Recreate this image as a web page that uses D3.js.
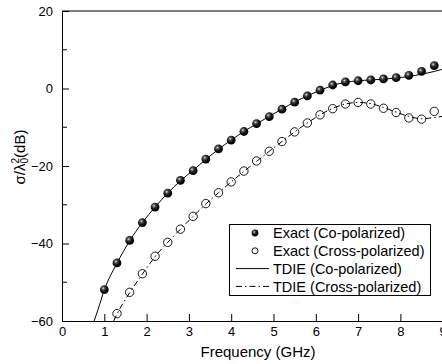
<!DOCTYPE html>
<html>
<head>
<meta charset="utf-8">
<script src="https://cdn.jsdelivr.net/npm/d3@7"></script>
<style>
  body { margin: 0; background: #fff; }
  svg { display: block; font-family: "Liberation Sans", Arial, sans-serif; }
</style>
</head>
<body>
<div id="chart"></div>
<script>
const width = 442;
const height = 364;

// measured points (every 0.3 GHz)
const exactCoFreq = [1.0, 1.3, 1.6, 1.9, 2.2, 2.5, 2.8, 3.1, 3.4, 3.7, 4.0, 4.3, 4.6, 4.9, 5.2, 5.5, 5.8, 6.1, 6.4, 6.7, 7.0, 7.3, 7.6, 7.9, 8.2, 8.5, 8.8];
const exactCo = [-51.9, -45.0, -39.2, -34.6, -30.6, -27.0, -23.7, -21.2, -18.2, -15.6, -13.3, -11.1, -9.05, -7.24, -5.34, -3.53, -1.91, -0.44, 0.9, 1.7, 2.0, 2.2, 2.5, 2.8, 3.4, 4.4, 5.9];

const exactCrossFreq = [1.3, 1.6, 1.9, 2.2, 2.5, 2.8, 3.1, 3.4, 3.7, 4.0, 4.3, 4.6, 4.9, 5.2, 5.5, 5.8, 6.1, 6.4, 6.7, 7.0, 7.3, 7.6, 7.9, 8.2, 8.5, 8.8];
const exactCross = [-58.1, -52.6, -47.8, -43.3, -39.7, -36.3, -33.0, -29.7, -26.9, -24.1, -21.3, -18.7, -16.2, -13.7, -11.2, -8.9, -6.8, -5.2, -4.0, -3.6, -4.0, -5.1, -6.2, -7.6, -7.9, -5.9];

// TDIE curves
const tdieCoFreq = [0.76, 0.85, 1.0, 1.3, 1.6, 1.9, 2.2, 2.5, 2.8, 3.1, 3.4, 3.7, 4.0, 4.3, 4.6, 4.9, 5.2, 5.5, 5.8, 6.1, 6.4, 6.7, 7.0, 7.3, 7.6, 7.9, 8.2, 8.5, 8.8, 9.1, 9.5, 10.0];
const tdieCo = [-60, -57.1, -52.0, -45.1, -39.3, -34.6, -30.6, -27.0, -23.8, -21.1, -18.3, -15.7, -13.3, -11.1, -9.1, -7.2, -5.3, -3.5, -1.9, -0.5, 0.8, 1.6, 2.0, 2.2, 2.4, 2.7, 3.1, 3.7, 4.4, 5.3, 6.6, 8.3];

const tdieCrossFreq = [1.22, 1.3, 1.6, 1.9, 2.2, 2.5, 2.8, 3.1, 3.4, 3.7, 4.0, 4.3, 4.6, 4.9, 5.2, 5.5, 5.8, 6.1, 6.4, 6.7, 7.0, 7.3, 7.6, 7.9, 8.2, 8.5, 8.8, 9.1, 9.5, 10.0];
const tdieCross = [-60, -58.2, -52.7, -47.9, -43.4, -39.7, -36.3, -33.0, -29.8, -26.9, -24.1, -21.4, -18.8, -16.2, -13.7, -11.2, -8.9, -6.8, -5.1, -4.0, -3.6, -3.9, -4.9, -6.1, -7.2, -7.8, -7.5, -7.0, -6.0, -5.0];

const xTicks = [0, 1, 2, 3, 4, 5, 6, 7, 8, 9, 10];
const yTicks = [-60, -40, -20, 0, 20];
const yMinorTicks = [-50, -30, -10, 10];

const legendLabels = ["Exact (Co-polarized)", "Exact (Cross-polarized)", "TDIE (Co-polarized)", "TDIE (Cross-polarized)"];

const plot = { left: 62, right: 485, top: 11, bottom: 321 };
const dashDot = "6,3,1.5,3";

const svg = d3.select("#chart").append("svg")
    .attr("width", width)
    .attr("height", height);

const defs = svg.append("defs");
const grad = defs.append("radialGradient")
    .attr("id", "ball")
    .attr("cx", "38%").attr("cy", "35%").attr("r", "65%");
grad.append("stop").attr("offset", "0%").attr("stop-color", "#e8e8e8");
grad.append("stop").attr("offset", "25%").attr("stop-color", "#555");
grad.append("stop").attr("offset", "60%").attr("stop-color", "#111");
grad.append("stop").attr("offset", "100%").attr("stop-color", "#000");

defs.append("clipPath").attr("id", "plotClip")
    .append("rect")
    .attr("x", plot.left).attr("y", plot.top)
    .attr("width", plot.right - plot.left)
    .attr("height", plot.bottom - plot.top);

const x = d3.scaleLinear().domain([0, 10]).range([plot.left, plot.right]);
const y = d3.scaleLinear().domain([-60, 20]).range([plot.bottom, plot.top]);

// frame top / right
svg.append("line")
    .attr("x1", plot.left).attr("x2", plot.right)
    .attr("y1", plot.top).attr("y2", plot.top)
    .attr("stroke", "#000");
svg.append("line")
    .attr("x1", plot.right).attr("x2", plot.right)
    .attr("y1", plot.top).attr("y2", plot.bottom)
    .attr("stroke", "#000");

// axes, ticks pointing inward
const xAxis = svg.append("g")
    .attr("transform", `translate(0,${plot.bottom})`)
    .call(d3.axisBottom(x).tickValues(xTicks).tickFormat(d3.format("d"))
        .tickSizeInner(-7).tickSizeOuter(0).tickPadding(6));

const yAxis = svg.append("g")
    .attr("transform", `translate(${plot.left},0)`)
    .call(d3.axisLeft(y).tickValues(yTicks).tickFormat(d3.format("d"))
        .tickSizeInner(-7).tickSizeOuter(0).tickPadding(9));

yAxis.selectAll(".minor")
    .data(yMinorTicks)
    .enter().append("line")
    .attr("class", "minor")
    .attr("x1", 0).attr("x2", 5)
    .attr("y1", d => y(d)).attr("y2", d => y(d))
    .attr("stroke", "#000");

[xAxis, yAxis].forEach(g => {
    g.selectAll("text")
        .style("font-size", "13px")
        .style("font-family", "'Liberation Sans', Arial, sans-serif")
        .attr("fill", "#000");
    g.selectAll("line, path").attr("stroke", "#000");
});

// axis titles
svg.append("text")
    .attr("x", 258).attr("y", 357)
    .attr("text-anchor", "middle")
    .style("font-size", "15px")
    .text("Frequency (GHz)");

const ylab = svg.append("text")
    .attr("transform", "translate(25,157) rotate(-90)")
    .attr("text-anchor", "middle")
    .style("font-size", "15px");
ylab.append("tspan").text("σ/λ");
ylab.append("tspan").attr("dy", -6).style("font-size", "10px").text("2");
ylab.append("tspan").attr("dx", -5.5).attr("dy", 9).style("font-size", "10px").text("0");
ylab.append("tspan").attr("dy", -3).text("(dB)");

// curves
const gPlot = svg.append("g").attr("clip-path", "url(#plotClip)");

const line = d3.line()
    .x(d => x(d[0]))
    .y(d => y(d[1]))
    .curve(d3.curveMonotoneX);

gPlot.append("path")
    .datum(d3.zip(tdieCoFreq, tdieCo))
    .attr("d", line)
    .attr("fill", "none")
    .attr("stroke", "#000")
    .attr("stroke-width", 1);

gPlot.append("path")
    .datum(d3.zip(tdieCrossFreq, tdieCross))
    .attr("d", line)
    .attr("fill", "none")
    .attr("stroke", "#000")
    .attr("stroke-width", 1)
    .attr("stroke-dasharray", dashDot);

gPlot.selectAll(".cross")
    .data(d3.zip(exactCrossFreq, exactCross))
    .enter().append("circle")
    .attr("class", "cross")
    .attr("cx", d => x(d[0]))
    .attr("cy", d => y(d[1]))
    .attr("r", 4.2)
    .attr("fill", "none")
    .attr("stroke", "#000")
    .attr("stroke-width", 0.9);

gPlot.selectAll(".co")
    .data(d3.zip(exactCoFreq, exactCo))
    .enter().append("circle")
    .attr("class", "co")
    .attr("cx", d => x(d[0]))
    .attr("cy", d => y(d[1]))
    .attr("r", 4.4)
    .attr("fill", "url(#ball)");

// legend
const lg = svg.append("g");
lg.append("rect")
    .attr("x", 229.5).attr("y", 224.5)
    .attr("width", 201).attr("height", 71)
    .attr("fill", "#fff")
    .attr("stroke", "#000");

const rowY = i => 233 + i * 17.8;

lg.append("circle").attr("cx", 255).attr("cy", rowY(0)).attr("r", 3.4).attr("fill", "url(#ball)");
lg.append("circle").attr("cx", 255).attr("cy", rowY(1)).attr("r", 3).attr("fill", "none").attr("stroke", "#000").attr("stroke-width", 0.9);
lg.append("line").attr("x1", 236).attr("x2", 269).attr("y1", rowY(2)).attr("y2", rowY(2)).attr("stroke", "#000");
lg.append("line").attr("x1", 236).attr("x2", 269).attr("y1", rowY(3)).attr("y2", rowY(3)).attr("stroke", "#000").attr("stroke-dasharray", dashDot);

lg.selectAll(".lab")
    .data(legendLabels)
    .enter().append("text")
    .attr("class", "lab")
    .attr("x", 273)
    .attr("y", (d, i) => rowY(i))
    .attr("dy", "0.36em")
    .style("font-size", "14.5px")
    .text(d => d);
</script>
</body>
</html>
